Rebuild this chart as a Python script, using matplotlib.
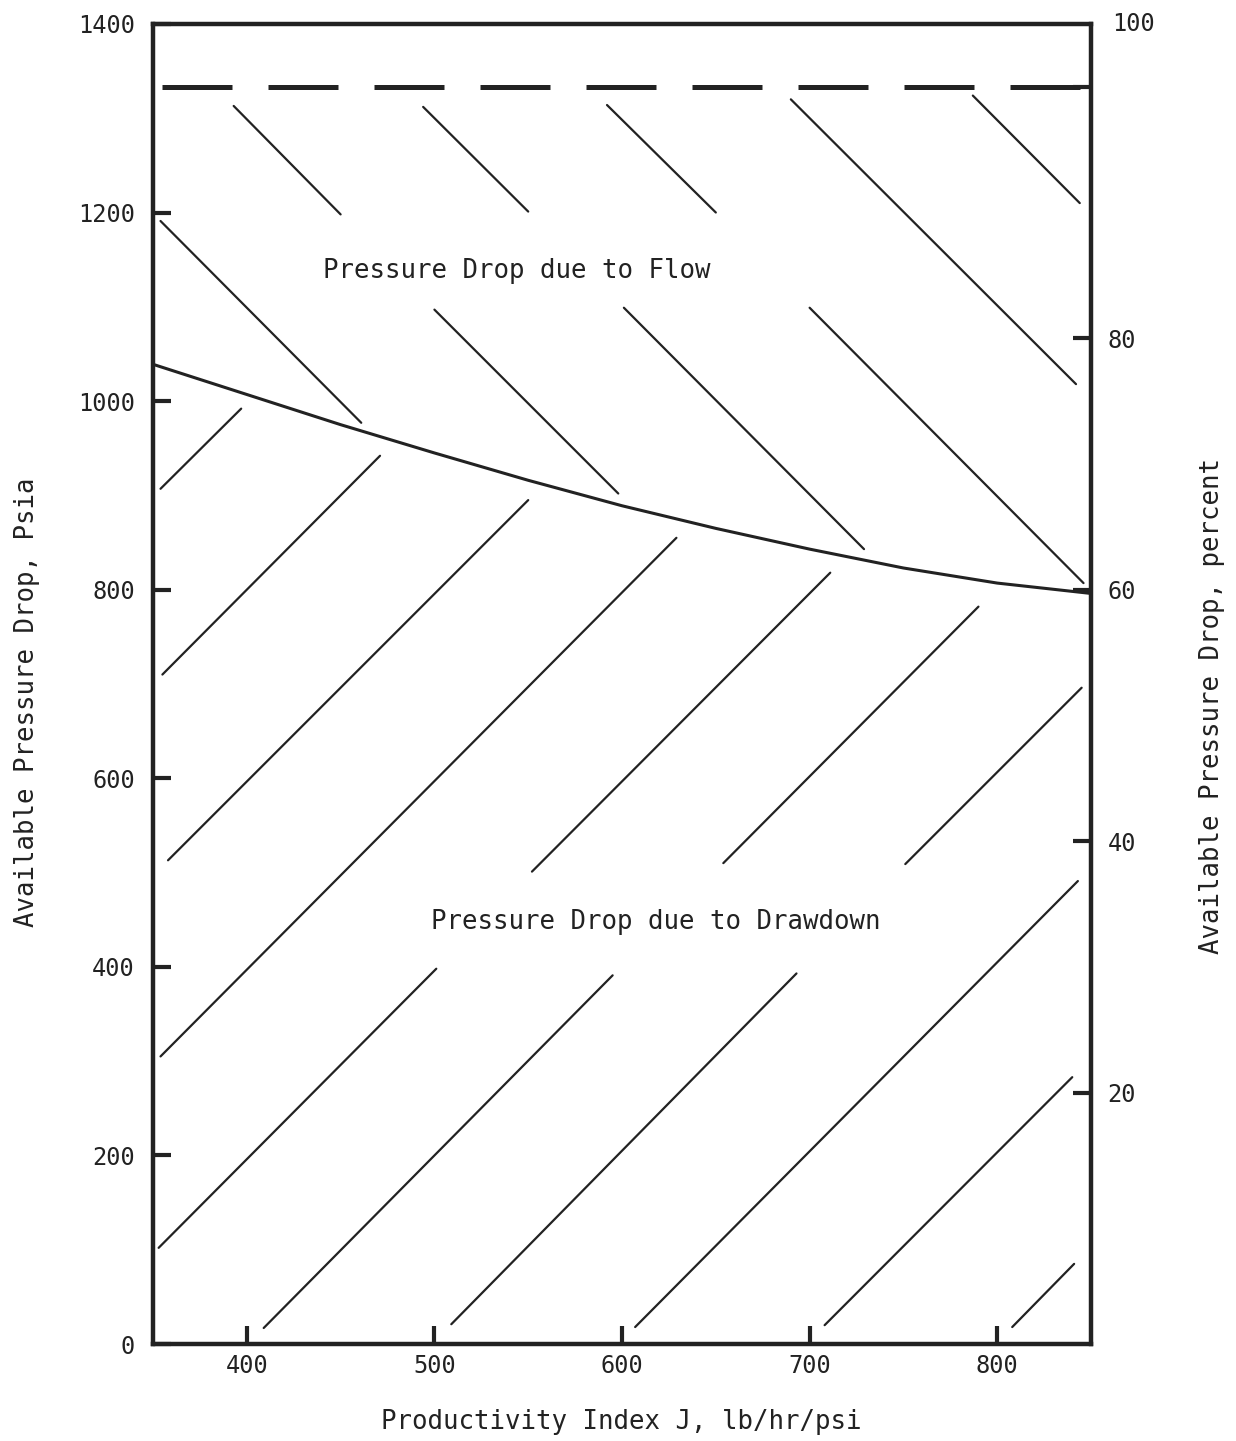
import numpy as np
import matplotlib.pyplot as plt

plt.rcParams['font.family'] = ['DejaVu Sans Mono', 'DejaVu Sans']

# boundary between drawdown share and flow share
j_curve = [350, 400, 450, 500, 550, 600, 650, 700, 750, 800, 850]
dp_curve = [1039, 1007, 975, 945, 916, 889, 865, 843, 823, 807, 796]

# total available pressure drop (= 100 percent), dashed
dp_total = 1333
j_total = [355, 850]

# hatch strokes, (j0, dp0, j1, dp1)
flow_hatch = [
    (393, 1313, 450, 1198),
    (494, 1312, 550, 1201),
    (592, 1314, 650, 1200),
    (690, 1320, 842, 1018),
    (787, 1324, 844, 1210),
    (354, 1191, 461, 977),
    (500, 1097, 598, 902),
    (601, 1099, 729, 843),
    (700, 1099, 846, 807),
]
drawdown_hatch = [
    (354, 907, 397, 992),
    (355, 710, 471, 942),
    (358, 513, 550, 895),
    (354, 305, 629, 855),
    (353, 102, 501, 398),
    (409, 17, 595, 391),
    (509, 21, 693, 393),
    (607, 18, 843, 491),
    (708, 20, 840, 283),
    (808, 18, 841, 85),
    (552, 501, 711, 818),
    (654, 510, 790, 782),
    (751, 509, 845, 696),
]

x_ticks = [400, 500, 600, 700, 800]
y_ticks = [0, 200, 400, 600, 800, 1000, 1200, 1400]
pct_ticks = [20, 40, 60, 80, 100]
pct_labels = ['20', '40', '60', '80', '']

ink = '#222222'

fig = plt.figure(figsize=(12.36, 14.41), dpi=100)
ax = fig.add_axes([0.1238, 0.0673, 0.7589, 0.9161])

for j0, p0, j1, p1 in flow_hatch + drawdown_hatch:
    ax.plot([j0, j1], [p0, p1], color=ink, lw=1.6, solid_capstyle='round')

ax.plot(j_curve, dp_curve, color=ink, lw=2.2)
ax.plot(j_total, [dp_total, dp_total], color=ink, lw=3.6,
        linestyle=(0, (14, 7.2)))

ax.text(544, 1138, 'Pressure Drop due to Flow', ha='center', va='center',
        fontsize=18.5, color=ink)
ax.text(618, 448, 'Pressure Drop due to Drawdown', ha='center', va='center',
        fontsize=18.5, color=ink)

ax.set_xlim(350, 850)
ax.set_ylim(0, 1400)
ax.set_xticks(x_ticks)
ax.set_yticks(y_ticks)
ax.tick_params(axis='both', direction='in', length=13, width=3,
               labelsize=17, colors=ink)
ax.tick_params(axis='x', pad=7)
ax.tick_params(axis='y', pad=13)
for s in ax.spines.values():
    s.set_linewidth(3.2)
    s.set_color(ink)

ax.set_xlabel('Productivity Index J, lb/hr/psi', fontsize=18.5, color=ink,
              va='center')
ax.xaxis.set_label_coords(0.499, -0.059)
ax.set_ylabel('Available Pressure Drop, Psia', fontsize=18.5, color=ink,
              va='center')
ax.yaxis.set_label_coords(-0.134, 0.486)

ax2 = ax.twinx()
ax2.set_ylim(0, 1400 / dp_total * 100)
ax2.set_yticks(pct_ticks)
ax2.set_yticklabels(pct_labels)
ax2.tick_params(axis='y', direction='in', length=13, width=3, labelsize=17,
                colors=ink, pad=12)
for s in ax2.spines.values():
    s.set_visible(False)
ax2.annotate('100', xy=(1.0, 1.0), xycoords='axes fraction',
             xytext=(15, 0), textcoords='offset points',
             ha='left', va='center', fontsize=17, color=ink)
ax2.set_ylabel('Available Pressure Drop, percent', fontsize=18.5, color=ink,
               va='center', rotation=90)
ax2.yaxis.set_label_coords(1.129, 0.483)

fig.savefig('out.png', dpi=100)
